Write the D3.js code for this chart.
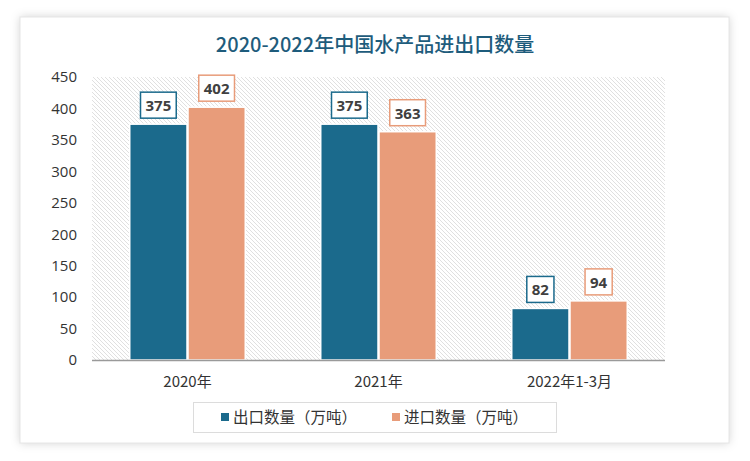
<!DOCTYPE html>
<html><head><meta charset="utf-8">
<script src="https://cdn.jsdelivr.net/npm/d3@7/dist/d3.min.js"></script>
<style>
html,body{margin:0;padding:0;background:#fff;}
svg{display:block;}
</style></head>
<body>
<script>
const categories = ["2020年", "2021年", "2022年1-3月"];
const seriesNames = ["出口数量（万吨）", "进口数量（万吨）"];
const exportValues = [375, 375, 82];
const importValues = [402, 363, 94];
const yTicks = [0, 50, 100, 150, 200, 250, 300, 350, 400, 450];
const titleText = "2020-2022年中国水产品进出口数量";

const colors = ["#1b6a8c", "#e89c7a"];
const W = 750, H = 461;
const svg = d3.select("body").append("svg").attr("width", W).attr("height", H);
const defs = svg.append("defs");

const f = defs.append("filter").attr("id","sh").attr("x","-10%").attr("y","-10%").attr("width","120%").attr("height","120%");
f.append("feDropShadow").attr("dx",0).attr("dy",0).attr("stdDeviation",5).attr("flood-color","#000").attr("flood-opacity",0.18);

const pat = defs.append("pattern").attr("id","hatch").attr("patternUnits","userSpaceOnUse").attr("width",4).attr("height",4);
pat.append("path").attr("d","M-1,-1 L5,5 M3,-1 L5,1 M-1,3 L1,5").attr("stroke","#e0e0e0").attr("stroke-width",1);

// card
svg.append("rect").attr("x",20).attr("y",17).attr("width",709).attr("height",426)
  .attr("fill","#fff").attr("filter","url(#sh)");
svg.append("rect").attr("x",20).attr("y",17).attr("width",709).attr("height",426)
  .attr("fill","none").attr("stroke","#e6e6e6").attr("stroke-width",1);

// title
svg.append("text").attr("x",375).attr("y",52).attr("text-anchor","middle")
  .attr("font-family","'Noto Sans CJK SC'").attr("font-size",20).attr("font-weight","500")
  .attr("fill","#1e5c7c").text(titleText);

const plot = {left:92, right:665, top:77, bottom:360};
const y = d3.scaleLinear().domain([0,450]).range([plot.bottom, plot.top]);
const x0 = d3.scaleBand().domain(categories).range([plot.left, plot.right]).paddingInner(0.39).paddingOuter(0.195);
const x1 = d3.scaleBand().domain([0,1]).range([0, x0.bandwidth()]).padding(0);

svg.append("rect").attr("x",plot.left).attr("y",plot.top).attr("width",plot.right-plot.left)
  .attr("height",plot.bottom-plot.top).attr("fill","url(#hatch)");

// y axis
const yAxis = svg.append("g").attr("transform",`translate(${plot.left-15},0)`)
  .call(d3.axisLeft(y).tickValues(yTicks).tickSize(0).tickPadding(0));
yAxis.select(".domain").remove();
yAxis.selectAll("text").attr("font-family","'Open Sans', 'Liberation Sans'").attr("font-size",15).attr("fill","#333");

// bars
const data = categories.map((c,i)=>({cat:c, vals:[exportValues[i], importValues[i]]}));
const g = svg.selectAll("g.grp").data(data).join("g").attr("class","grp")
  .attr("transform", d=>`translate(${x0(d.cat)},0)`);
g.selectAll("rect").data(d=>d.vals.map((v,k)=>({v,k}))).join("rect")
  .attr("x", d=>x1(d.k)+0.5).attr("width", x1.bandwidth()-1)
  .attr("y", d=>y(d.v)).attr("height", d=>y(0)-y(d.v))
  .attr("fill", d=>colors[d.k]).attr("stroke","#fff").attr("stroke-width",1.5);

// labels
g.each(function(d){
  const gg = d3.select(this);
  d.vals.forEach((v,k)=>{
    const cx = x1(k)+x1.bandwidth()/2;
    const t = gg.append("text").attr("x",cx).attr("y",y(v)-13).attr("text-anchor","middle")
      .attr("font-family","'Open Sans'").attr("font-weight","bold").attr("font-size",15)
      .attr("fill","#404040").text(v);
    const bw = t.node().getComputedTextLength()+10;
    gg.insert("rect","text").attr("x",cx-bw/2).attr("y",y(v)-32).attr("width",bw).attr("height",26)
      .attr("fill","#fff").attr("stroke",colors[k]).attr("stroke-width",1.5);
  });
});
g.selectAll("text").raise();

// baseline
svg.append("line").attr("x1",plot.left).attr("x2",plot.right).attr("y1",plot.bottom+0.5).attr("y2",plot.bottom+0.5)
  .attr("stroke","#9a9a9a").attr("stroke-width",1.5);

// x labels
svg.selectAll("text.xl").data(categories).join("text").attr("class","xl")
  .attr("x", d=>x0(d)+x0.bandwidth()/2).attr("y",387).attr("text-anchor","middle")
  .attr("font-family","'Noto Sans CJK SC'").attr("font-size",15).attr("fill","#333").text(d=>d);

// legend
svg.append("rect").attr("x",193.5).attr("y",402.5).attr("width",363).attr("height",30)
  .attr("fill","#fff").attr("stroke","#dcdcdc").attr("stroke-width",1);
const lx = [221, 392];
seriesNames.forEach((s,i)=>{
  svg.append("rect").attr("x",lx[i]).attr("y",413).attr("width",8).attr("height",8).attr("fill",colors[i]);
  svg.append("text").attr("x",lx[i]+12).attr("y",423).attr("font-family","'Noto Sans CJK SC'")
    .attr("font-size",15.5).attr("fill","#333").text(s);
});
</script>
</body></html>
